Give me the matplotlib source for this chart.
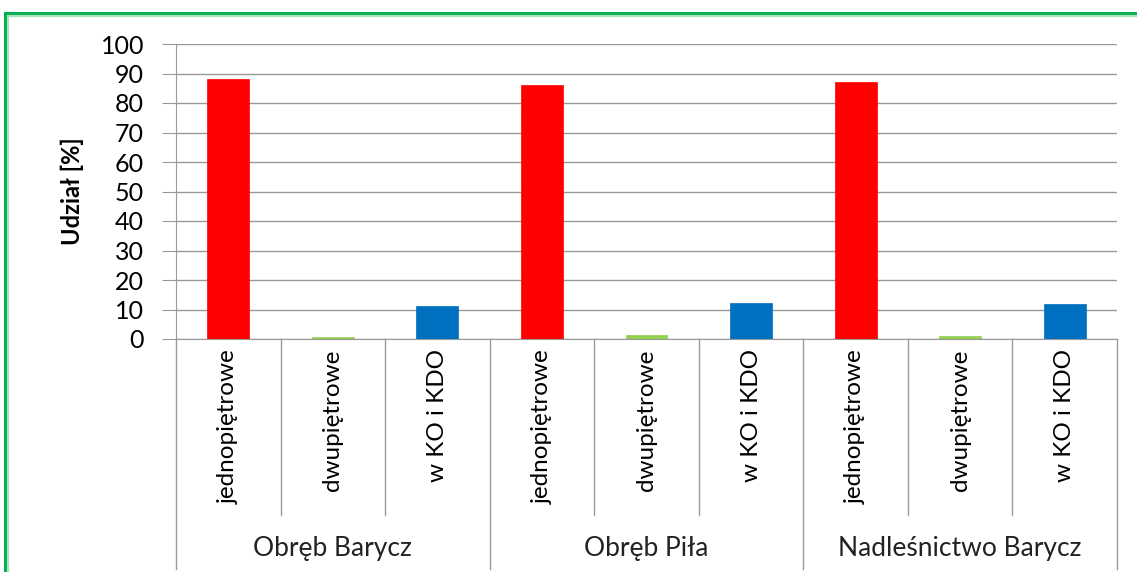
import matplotlib.pyplot as plt
import matplotlib
from matplotlib.patches import Rectangle

plt.rcParams['font.family'] = ['Lato', 'DejaVu Sans']

groups = ['Obręb Barycz', 'Obręb Piła', 'Nadleśnictwo Barycz']
categories = ['jednopiętrowe', 'dwupiętrowe', 'w KO i KDO']
values = [
    [88.0, 0.7, 11.2],
    [86.0, 1.5, 12.2],
    [87.0, 1.0, 11.7],
]
colors = ['#ff0000', '#92d050', '#0070c0']

W, H = 1137, 572
fig = plt.figure(figsize=(W / 100, H / 100), dpi=100)

# green double frame around chart
fig.patches.append(Rectangle((5 / W, -0.05), 1.1, (H - 13) / H + 0.05, transform=fig.transFigure,
                             fill=False, edgecolor='#00b050', linewidth=2.2, zorder=0))
fig.patches.append(Rectangle((8 / W, -0.05), 1.1, (H - 16) / H + 0.05, transform=fig.transFigure,
                             fill=False, edgecolor='#a9e2b9', linewidth=1.6, zorder=0))

x0, x1, ytop, ybot = 176, 1117, 44, 339
ax = fig.add_axes([x0 / W, 1 - ybot / H, (x1 - x0) / W, (ybot - ytop) / H])

n = len(categories)
pos = 0
for g, vals in enumerate(values):
    for c, v in enumerate(vals):
        ax.bar(pos, v, width=0.4, color=colors[c], edgecolor=colors[c], linewidth=0.5, zorder=3)
        ax.text(pos, -0.035, categories[c], rotation=90, ha='center', va='top',
                transform=ax.get_xaxis_transform(), fontsize=17.5, color='#000000')
        pos += 1
    ax.text(g * n + (n - 1) / 2, -0.71, groups[g], ha='center', va='center',
            transform=ax.get_xaxis_transform(), fontsize=19, color='#222222')

total = n * len(groups)
ax.set_xlim(-0.5, total - 0.5)
ax.set_ylim(0, 100)
ax.set_yticks(range(0, 101, 10))
ax.tick_params(axis='y', labelsize=18, length=10, color='#999999', pad=13)
ax.tick_params(axis='x', bottom=False, labelbottom=False)
ax.grid(axis='y', color='#999999', linewidth=1, zorder=0)
for s in ['top', 'right']:
    ax.spines[s].set_visible(False)
ax.spines['left'].set_color('#999999')
ax.spines['bottom'].set_color('#999999')

# category separators below the axis
tr = ax.get_xaxis_transform()
for i in range(total + 1):
    xs = i - 0.5
    low = -0.78 if i % n == 0 else -0.597
    ax.plot([xs, xs], [0, low], transform=tr, color='#999999', linewidth=1, clip_on=False)

ax.set_ylabel('Udział [%]', fontsize=17, fontweight='bold', labelpad=12)

fig.savefig('out.png', dpi=100)
